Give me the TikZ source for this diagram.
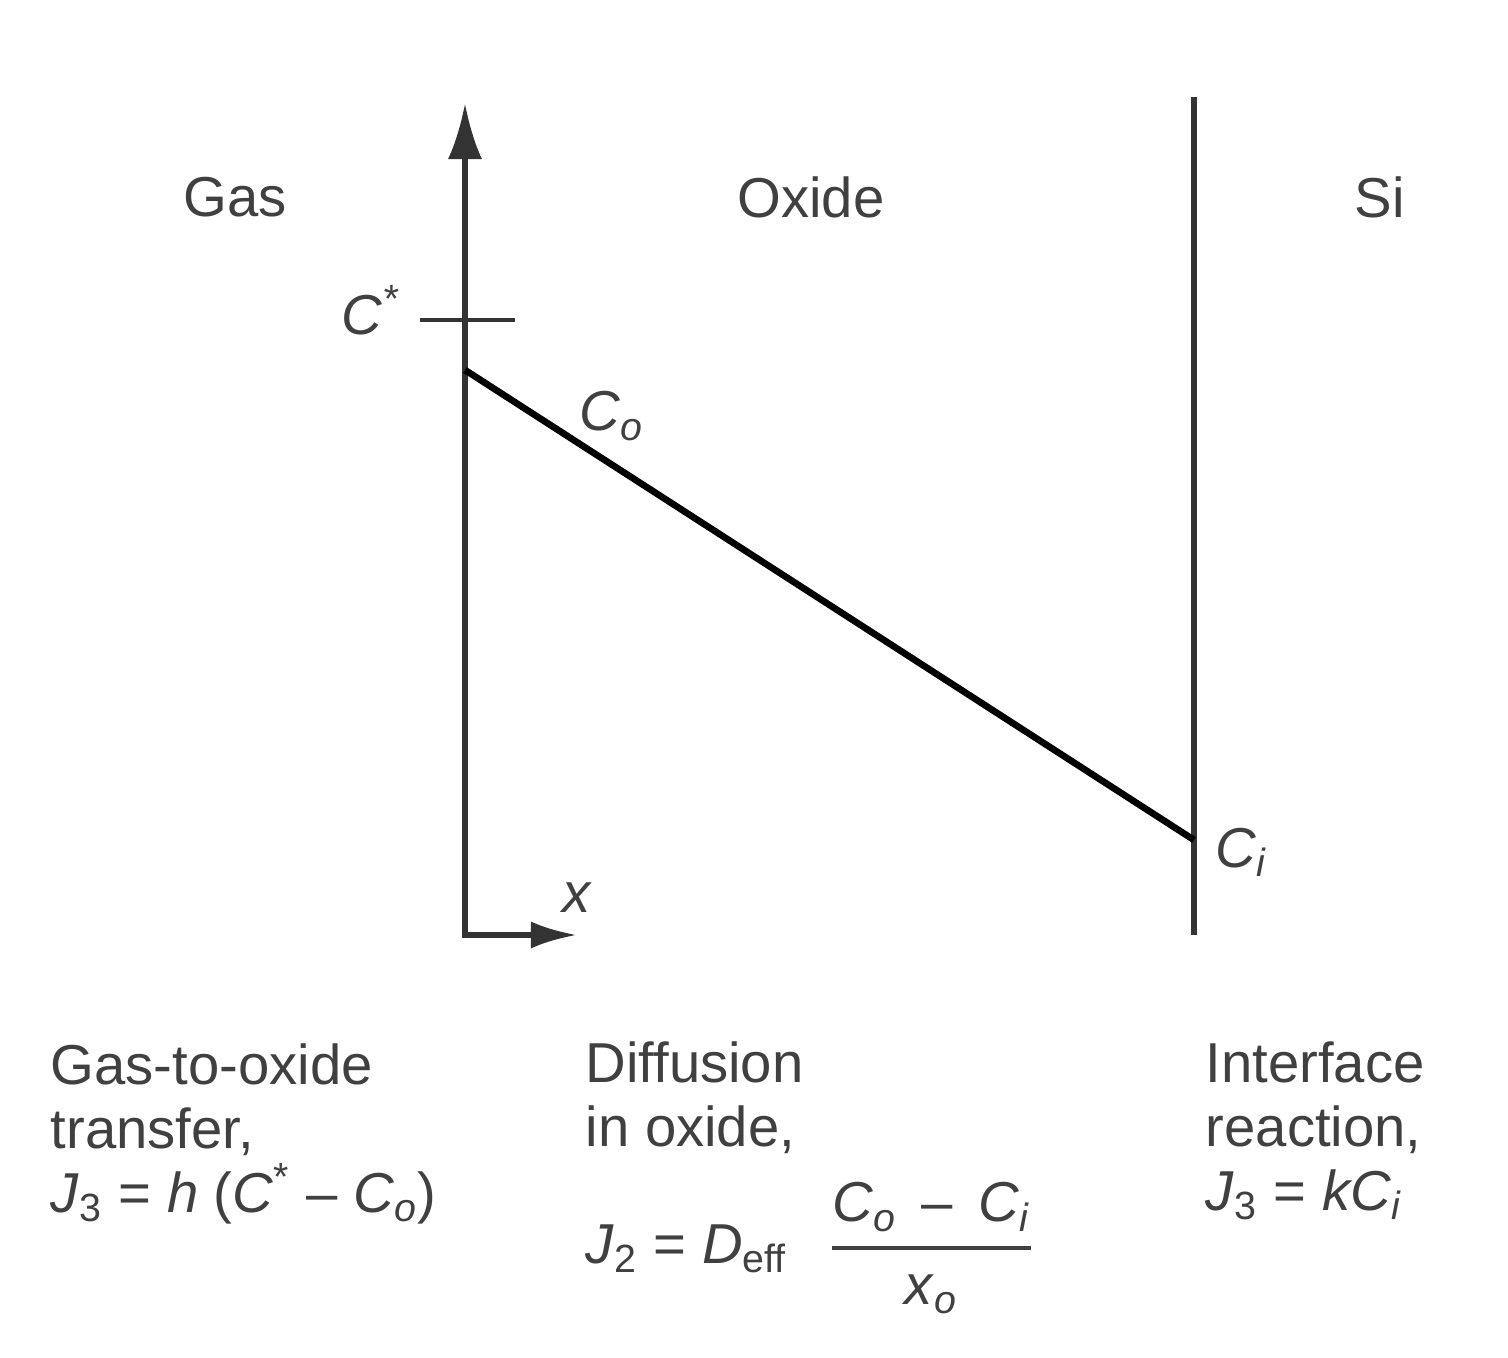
\documentclass[tikz,border=0pt]{standalone}
\usepackage{amsmath}
\usepackage{fontspec}
\setmainfont{Liberation Sans}
\usetikzlibrary{arrows.meta, positioning, calc}
\tikzset{
  axis/.style={line width=1.6pt, draw=black!80},
  profile/.style={line width=1.9pt, draw=black},
  cstick/.style={line width=1.1pt, draw=black!80},
  region/.style={font=\fontsize{16}{18.5}\selectfont, text=black!75},
  conc/.style={font=\fontsize{16}{18.5}\selectfont\itshape, text=black!75, inner sep=0pt},
  caption/.style={align=left, inner sep=0pt, font=\fontsize{16}{18.2}\selectfont, text=black!75}
}

\begin{document}
\begin{tikzpicture}[x=0.01cm, y=-0.01cm]

  \useasboundingbox (0,0) rectangle (1508,1358);

  % Axes and interfaces
  \coordinate (origin) at (465,935);
  \coordinate (ytip) at (465,103);
  \coordinate (xtip) at (577,935);
  \coordinate (sitop) at (1194,97);
  \coordinate (sibot) at (1194,935);
  \coordinate (cstarl) at (420,320);
  \coordinate (cstarr) at (515,320);
  \coordinate (copt) at (465,370);
  \coordinate (cipt) at (1194,840);

  \draw [axis, {Latex[length=5.6mm,width=3.4mm]}-{Latex[length=4.6mm,width=2.7mm]}] (ytip) -- (origin) -- (xtip);
  \draw [axis] (sitop) -- (sibot);
  \draw [cstick] (cstarl) -- (cstarr);

  % Concentration profile
  \draw [profile] (copt) -- (cipt);

  % Region names
  \node (gas) [region] at (235,197) {Gas};
  \node (oxide) [region] at (811,197) {Oxide};
  \node (si) [region] at (1380,197) {Si};

  % Concentration labels
  \node (cstar) [conc, left=0.2cm of cstarl, yshift=0.1cm] {C\textsuperscript{*}};
  \node (co) [conc] at (612,416) {C\textsubscript{o}};
  \node (ci) [conc] at (1241,852) {C\textsubscript{i}};
  \node (xlab) [conc] at (577,898) {x};

  % Flux expressions
  \node (gastext) [caption, anchor=north west] at (50,1043) {Gas-to-oxide\\transfer,\\\textit{J}\textsubscript{3} = \textit{h} (\textit{C}\textsuperscript{*} -- \textit{C}\textsubscript{\textit{o}})};
  \node (difftext) [caption, anchor=north west] at (585,1041) {Diffusion\\in oxide,};
  \node (diffeq) [caption, anchor=base west] at (585,1263) {\textit{J}\textsubscript{2} = \textit{D}\textsubscript{eff}\;\;\,$\genfrac{}{}{1pt}{0}{\text{\textit{C}\textsubscript{\textit{o}}\, -- \,\textit{C}\textsubscript{\textit{i}}}}{\text{\textit{x}\textsubscript{\textit{o}}}}$};
  \node (inttext) [caption, anchor=north west] at (1205,1041) {Interface\\reaction,\\\textit{J}\textsubscript{3} = \textit{kC}\textsubscript{\textit{i}}};

\end{tikzpicture}
\end{document}
